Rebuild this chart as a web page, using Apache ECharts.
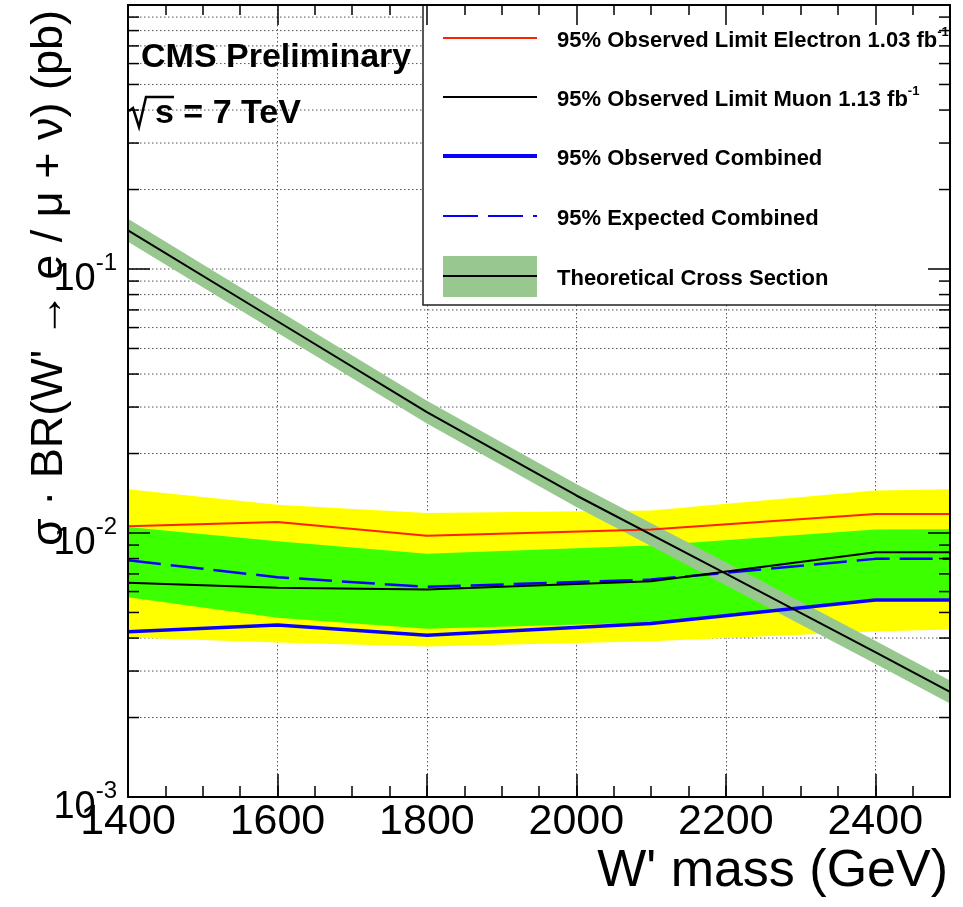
<!DOCTYPE html>
<html><head><meta charset="utf-8">
<script src="https://cdn.jsdelivr.net/npm/echarts@6/dist/echarts.min.js"></script>
<style>html,body{margin:0;padding:0;background:#fff}#c{width:963px;height:907px}</style>
</head><body><div id="c"></div>
<script>
// ---- data ----
const masses        = [1400, 1600, 1800, 2100, 2400, 2500];
const obsElectron   = [0.0106, 0.0110, 0.00977, 0.0103, 0.0118, 0.0118];
const obsMuon       = [0.00648, 0.0062, 0.00611, 0.00657, 0.00845, 0.00845];
const obsCombined   = [0.00423, 0.00448, 0.0041, 0.00454, 0.00557, 0.00557];
const expCombined   = [0.00788, 0.0068, 0.00625, 0.00666, 0.00798, 0.00798];
const exp2SigLow    = [0.00402, 0.00385, 0.00372, 0.00389, 0.00424, 0.00431];
const exp2SigHigh   = [0.01466, 0.01279, 0.0119, 0.01217, 0.01449, 0.01466];
const exp1SigLow    = [0.00571, 0.00477, 0.00434, 0.00458, 0.00565, 0.00565];
const exp1SigHigh   = [0.01054, 0.0093, 0.00835, 0.00896, 0.0103, 0.01034];

const theoryMass    = [1400, 1600, 1800, 2000, 2200, 2400, 2500];
const theoryXsec    = [0.140, 0.0634, 0.0287, 0.01387, 0.00701, 0.00354, 0.0025];
const theoryHigh    = [0.155, 0.0700, 0.0317, 0.01533, 0.00775, 0.00391, 0.00276];
const theoryLow     = [0.1267, 0.0574, 0.0260, 0.01255, 0.00634, 0.00320, 0.00226];

const xMin = 1400, xMax = 2500, xMajorStep = 200, xMinorStep = 50;
const yMin = 0.001, yMax = 1;
const yMinorTicks = [0.002,0.003,0.004,0.005,0.006,0.007,0.008,0.009,
                     0.02,0.03,0.04,0.05,0.06,0.07,0.08,0.09,
                     0.2,0.3,0.4,0.5,0.6,0.7,0.8,0.9];
const yDecadeLines = [0.01, 0.1];

const legendLabels = [
  '95% Observed Limit Electron 1.03 fb{s|-1}',
  '95% Observed Limit Muon 1.13 fb{s|-1}',
  '95% Observed Combined',
  '95% Expected Combined',
  'Theoretical Cross Section'
];
const xTitle = "W' mass (GeV)";
const yTitle = "σ · BR(W' → e / μ + ν) (pb)";
const cmsLabel = 'CMS Preliminary';
const energyLabel = 's = 7 TeV';

// ---- styles ----
const FONT = '"Liberation Sans", Arial, Helvetica, sans-serif';
const C_RED = '#ff2200', C_BLUE = '#0a00ff', C_YEL = '#ffff00', C_GRN = '#3cff00', C_TH = '#98c890';

const chart = echarts.init(document.getElementById('c'), null, {renderer: 'canvas'});

function bandSeries(lowArr, highArr, xs, color, z) {
  return {
    type: 'custom', z: z, silent: true, clip: true,
    xAxisIndex: 0, yAxisIndex: 0,
    encode: {x: 0, y: 1},
    data: [[xs[0], highArr[0]]],
    renderItem: function (params, api) {
      const pts = [];
      for (let i = 0; i < xs.length; i++) pts.push(api.coord([xs[i], highArr[i]]));
      for (let i = xs.length - 1; i >= 0; i--) pts.push(api.coord([xs[i], lowArr[i]]));
      return {type: 'polygon', shape: {points: pts}, style: {fill: color, stroke: null}};
    }
  };
}
function lineSeries(xs, ys, color, width, dash, z) {
  return {
    type: 'line', z: z, silent: true, clip: true, symbol: 'none', showSymbol: false,
    xAxisIndex: 0, yAxisIndex: 0,
    data: xs.map((m, i) => [m, ys[i]]),
    lineStyle: {color: color, width: width, type: dash || 'solid'},
    animation: false
  };
}

const axisLineStyle = {color: '#000', width: 2};

const option = {
  animation: false,
  backgroundColor: '#fff',
  grid: {left: 128, right: 13, top: 5, bottom: 110, containLabel: false, outerBoundsMode: 'none'},
  xAxis: [
    { type: 'value', position: 'bottom', min: xMin, max: xMax, interval: xMajorStep, z: 0,
      axisLine: {show: true, onZero: false, lineStyle: axisLineStyle},
      axisTick: {show: true, inside: true, length: 23, lineStyle: {color: '#000', width: 1.5}},
      axisLabel: {show: true, margin: 4, showMaxLabel: false, formatter: v => String(v),
        color: '#000', fontFamily: FONT, fontSize: 43},
      splitLine: {show: true, lineStyle: {color: '#555', width: 1, type: [1.5, 2.5]}} },
    { type: 'value', position: 'bottom', min: xMin, max: xMax, interval: xMinorStep, z: 10,
      axisLine: {show: false, onZero: false},
      axisTick: {show: true, inside: true, length: 11, lineStyle: {color: '#000', width: 1.5}},
      axisLabel: {show: false}, splitLine: {show: false} },
    { type: 'value', position: 'top', min: xMin, max: xMax, interval: xMajorStep, z: 10,
      axisLine: {show: true, onZero: false, lineStyle: axisLineStyle},
      axisTick: {show: true, inside: true, length: 20, lineStyle: {color: '#000', width: 1.5}},
      axisLabel: {show: false}, splitLine: {show: false} },
    { type: 'value', position: 'top', min: xMin, max: xMax, interval: xMinorStep, z: 10,
      axisLine: {show: false, onZero: false},
      axisTick: {show: true, inside: true, length: 10, lineStyle: {color: '#000', width: 1.5}},
      axisLabel: {show: false}, splitLine: {show: false} }
  ],
  yAxis: [
    { type: 'log', logBase: 10, position: 'left', min: yMin, max: yMax, z: 10,
      axisLine: {show: true, onZero: false, lineStyle: axisLineStyle},
      axisTick: {show: true, inside: true, length: 22, lineStyle: {color: '#000', width: 1.5}},
      axisLabel: {show: true, margin: 11, padding: [12, 0, 0, 0], color: '#000', fontFamily: FONT,
        formatter: function (v) {
          const e = Math.round(Math.log10(v));
          if (e === 0) return '';
          return '{b|10}{s|' + e + '}';
        },
        rich: {
          b: {fontSize: 38, fontFamily: FONT, color: '#000', lineHeight: 48, verticalAlign: 'bottom'},
          s: {fontSize: 24, fontFamily: FONT, color: '#000', lineHeight: 24, verticalAlign: 'top'}
        }},
      splitLine: {show: false} },
    { type: 'log', logBase: 10, position: 'right', min: yMin, max: yMax, z: 10,
      axisLine: {show: true, onZero: false, lineStyle: axisLineStyle},
      axisTick: {show: true, inside: true, length: 22, lineStyle: {color: '#000', width: 1.5}},
      axisLabel: {show: false}, splitLine: {show: false} }
  ],
  series: [
    // horizontal dotted grid lines (minor + decades)
    { type: 'custom', z: 1, silent: true, xAxisIndex: 0, yAxisIndex: 0, encode: {x: 0, y: 1},
      data: yMinorTicks.concat(yDecadeLines).map(v => [xMin, v]),
      renderItem: function (params, api) {
        const cs = params.coordSys;
        const y = api.coord([xMin, api.value(1)])[1];
        return {type: 'line', shape: {x1: cs.x, y1: y, x2: cs.x + cs.width, y2: y},
          style: {stroke: '#555', lineWidth: 1, lineDash: [1.5, 2.5]}};
      } },
    bandSeries(exp2SigLow, exp2SigHigh, masses, C_YEL, 2),
    bandSeries(exp1SigLow, exp1SigHigh, masses, C_GRN, 3),
    bandSeries(theoryLow, theoryHigh, theoryMass, C_TH, 4),
    lineSeries(masses, expCombined, C_BLUE, 2.5, [33, 10], 5),
    lineSeries(masses, obsMuon, '#000', 2, null, 5),
    lineSeries(masses, obsElectron, C_RED, 2, null, 5),
    lineSeries(masses, obsCombined, C_BLUE, 3.5, null, 5),
    lineSeries(theoryMass, theoryXsec, '#000', 2, null, 6),
    // minor ticks on left and right axes
    { type: 'custom', z: 10, silent: true, xAxisIndex: 0, yAxisIndex: 0, encode: {x: 0, y: 1},
      data: yMinorTicks.map(v => [xMin, v]),
      renderItem: function (params, api) {
        const cs = params.coordSys;
        const y = api.coord([xMin, api.value(1)])[1];
        const st = {stroke: '#000', lineWidth: 1.5};
        return {type: 'group', children: [
          {type: 'line', shape: {x1: cs.x, y1: y, x2: cs.x + 11, y2: y}, style: st},
          {type: 'line', shape: {x1: cs.x + cs.width - 11, y1: y, x2: cs.x + cs.width, y2: y}, style: st}
        ]};
      } }
  ],
  graphic: []
};

// legend (box, samples, texts)
const G = [];
G.push({type: 'rect', z: 8, shape: {x: 423, y: 5, width: 527, height: 300},
  style: {fill: '#fff', stroke: '#222', lineWidth: 1.5}});
const rowY = [38, 97, 156, 216, 276];
const rowStyle = [
  {stroke: C_RED, lineWidth: 2},
  {stroke: '#000', lineWidth: 2},
  {stroke: C_BLUE, lineWidth: 4},
  {stroke: C_BLUE, lineWidth: 2, lineDash: [35, 10]},
  {stroke: '#000', lineWidth: 2}
];
G.push({type: 'rect', z: 9, shape: {x: 443, y: 256, width: 94, height: 41}, style: {fill: C_TH}});
for (let i = 0; i < legendLabels.length; i++) {
  G.push({type: 'line', z: 9, shape: {x1: 443, y1: rowY[i], x2: 537, y2: rowY[i]}, style: rowStyle[i]});
  G.push({type: 'text', z: 9, x: 557, y: rowY[i] + 3,
    style: {text: legendLabels[i], fill: '#000', fontFamily: FONT, fontWeight: 'bold', fontSize: 22,
      lineHeight: 30, align: 'left', verticalAlign: 'middle',
      rich: {s: {fontSize: 13, fontWeight: 'bold', fontFamily: FONT, lineHeight: 13, verticalAlign: 'top'}}}});
}
// CMS label
G.push({type: 'text', z: 9, x: 141, y: 58,
  style: {text: cmsLabel, fill: '#000', fontFamily: FONT, fontWeight: 'bold', fontSize: 34,
    align: 'left', verticalAlign: 'middle'}});
// sqrt(s) = 7 TeV
G.push({type: 'polyline', z: 9, shape: {points: [[129, 111], [133, 108], [139, 127], [146, 97], [174, 97]]},
  style: {stroke: '#000', lineWidth: 2.5, fill: null}});
G.push({type: 'text', z: 9, x: 155, y: 114,
  style: {text: energyLabel, fill: '#000', fontFamily: FONT, fontWeight: 'bold', fontSize: 34,
    align: 'left', verticalAlign: 'middle'}});
// axis titles
G.push({type: 'text', z: 9, x: 948, y: 872,
  style: {text: xTitle, fill: '#000', fontFamily: FONT, fontSize: 52, align: 'right', verticalAlign: 'middle'}});
G.push({type: 'text', z: 9, x: 50, y: 10, rotation: Math.PI / 2,
  style: {text: yTitle, fill: '#000', fontFamily: FONT, fontSize: 45, align: 'right', verticalAlign: 'middle'}});
option.graphic = G;

chart.setOption(option);
</script>
</body></html>
